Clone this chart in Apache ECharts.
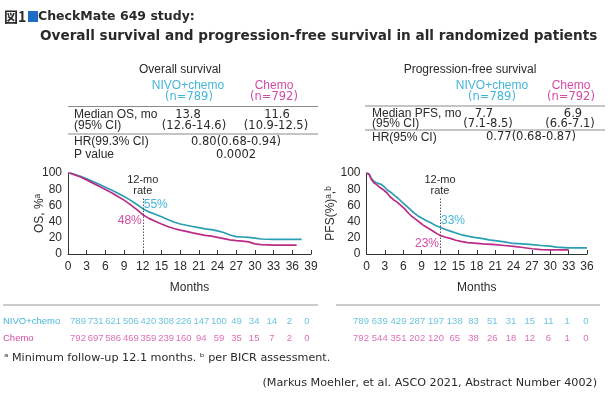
<!DOCTYPE html>
<html><head><meta charset="utf-8">
<script src="https://cdn.jsdelivr.net/npm/echarts/dist/echarts.min.js"></script>
<style>html,body{margin:0;padding:0;background:#fff}#c{width:608px;height:399px}</style>
</head><body><div id="c"></div>
<script>
// ---------- data ----------
const osNivo = [[0,100],[0.5,99.5],[1,98.5],[2,96],[3,93],[4,89.5],[5,86],[6,82.5],[7,79],[8,75],[9,71],[10,66.5],[11,61.5],[12,56],[13,52],[14,49],[15,46],[16,42.5],[17,39.5],[18,37],[19,35.5],[20,34],[21,32.5],[22,31],[23,30],[24,28.5],[25,26.5],[26,23.5],[27,21.5],[28,21],[29,20.5],[30,19.5],[31,18.5],[33,18],[35,18],[37.5,18]];
const osChemo = [[0,100],[0.5,99.5],[1,98],[2,95],[3,91.5],[4,87.5],[5,83.5],[6,79.5],[7,75.5],[8,71],[9,66.5],[10,61],[11,55],[12,48.5],[13,44],[14,40.5],[15,37],[16,34],[17,31.5],[18,29.5],[19,28],[20,26],[21,24.5],[22,23],[23,22],[24,20.5],[25,19],[26,17.5],[27,16.5],[28,16],[29,15],[30,12.5],[31,11.5],[33,11],[35,11],[36.7,11]];
const pfsNivo = [[0,100],[0.4,99],[0.8,93],[1.2,90],[1.6,88],[2.4,86],[2.9,83],[3.4,79],[4,76],[4.6,72],[5.2,68.5],[5.8,64],[6.4,60],[7,56],[7.7,51],[8.4,47],[9,44.5],[9.8,41],[10.5,38.5],[11.2,35.5],[12,33],[12.8,30.5],[13.8,28],[14.6,26],[15.4,24],[16.5,22],[17.6,20.5],[19,19],[20,17.5],[21,16.5],[22.5,15],[24,13],[25.5,12.5],[27,11.5],[28.5,10.5],[30,9.8],[31,8.5],[33,7.5],[36,7.5]];
const pfsChemo = [[0,100],[0.4,98.5],[0.8,92],[1.2,88],[1.6,86],[2.2,82],[2.8,79],[3.4,75],[3.8,71],[4.4,67],[5,64],[5.6,60],[6.2,56],[6.9,50],[7.4,46.5],[8,43],[8.6,39.5],[9.2,36],[9.8,33],[10.5,30],[11.2,26.5],[12,23],[12.8,21],[13.8,19],[14.6,17],[15.4,15.5],[16.5,14],[17.6,13.5],[19,12.5],[21,11.5],[22.5,10.5],[24,9.5],[25.5,8],[27,6.5],[28.5,5.5],[30,5],[33,5]];

const osRate12 = {nivo: 55, chemo: 48};
const pfsRate12 = {nivo: 33, chemo: 23};

const osRiskMonths = [0,3,6,9,12,15,18,21,24,27,30,33,36,39];
const osRiskNivo = [789,731,621,506,420,308,226,147,100,49,34,14,2,0];
const osRiskChemo = [792,697,586,469,359,239,160,94,59,35,15,7,2,0];
const pfsRiskMonths = [0,3,6,9,12,15,18,21,24,27,30,33,36];
const pfsRiskNivo = [789,639,429,287,197,138,83,51,31,15,11,1,0];
const pfsRiskChemo = [792,544,351,202,120,65,38,26,18,12,6,1,0];

// ---------- style ----------
const FONT = '"Liberation Sans", Arial, sans-serif';
const WIDE = '"DejaVu Sans", sans-serif';
const CY_LINE = '#2a9fb3', MG_LINE = '#bb2c86';
const CY_TXT = '#45b6d8', MG_TXT = '#d24ba6';
const TXT = '#2a2a2a';

const chart = echarts.init(document.getElementById('c'));

function xAx(grid, max) {
  return {type:'value', gridIndex:grid, min:0, max:max, interval:3,
    name:'Months', nameLocation:'middle', nameGap:28, nameMoveOverlap:false,
    nameTextStyle:{color:TXT, fontSize:12, fontFamily:FONT},
    axisLine:{lineStyle:{color:'#333', width:1}},
    axisTick:{show:true, inside:true, length:4, lineStyle:{color:'#333'}},
    axisLabel:{color:TXT, fontSize:12, fontFamily:FONT, margin:7},
    splitLine:{show:false}};
}
function yAx(grid, name, gap) {
  return {type:'value', gridIndex:grid, min:0, max:100, interval:20,
    name:name, nameLocation:'middle', nameGap:gap, nameRotate:90, nameMoveOverlap:false,
    nameTextStyle:{color:TXT, fontSize:12, fontFamily:FONT},
    axisLine:{show:true, lineStyle:{color:'#333', width:1}},
    axisTick:{show:false},
    axisLabel:{color:TXT, fontSize:12, fontFamily:FONT, margin:6},
    splitLine:{show:false}};
}
function hidX(grid, max) { return {type:'value', gridIndex:grid, min:0, max:max, show:false}; }
function hidY(grid) { return {type:'value', gridIndex:grid, min:0, max:1, show:false}; }
function curve(name, data, xi, color, extra) {
  return Object.assign({type:'line', name:name, xAxisIndex:xi, yAxisIndex:xi, data:data,
    showSymbol:false, smooth:false, lineStyle:{color:color, width:1.7}, itemStyle:{color:color},
    silent:true, z:3}, extra || {});
}
function rateMark(pct, color, pos, off) {
  return {symbol:'circle', symbolSize:0, coord:[12, pct], value:pct,
    label:{show:true, position:pos, distance:1, offset:off, formatter:pct+'%',
      color:color, fontSize:12, fontFamily:FONT}};
}
function vline() {
  return {silent:true, symbol:['none','none'],
    lineStyle:{color:'#555', type:[1.5,1.5], width:1},
    label:{show:true, position:'end', formatter:'12-mo\nrate', color:TXT, fontSize:11,
      lineHeight:11, fontFamily:FONT, distance:1},
    data:[[{coord:[12,0]},{coord:[12,70]}]]};
}
function riskSeries(xi, months, vals, yv, color) {
  return {type:'scatter', xAxisIndex:xi, yAxisIndex:xi, symbolSize:0, silent:true,
    data: months.map((m,i)=>[m, yv, vals[i]]),
    label:{show:true, position:'inside', formatter:p=>String(p.value[2]),
      color:color, fontSize:9.5, fontFamily:FONT}};
}

function txt(x, y, s, opt) {
  opt = opt || {};
  return {type:'text', x:x, y:y, silent:true,
    style:{text:s, fill:opt.color||TXT, font:(opt.weight||'normal')+' '+(opt.size||12)+'px '+(opt.family||FONT),
      textAlign:opt.align||'left', textVerticalAlign:'middle'}};
}
function num(x, y, s, opt) {
  opt = Object.assign({align:'center', size:11.5, family:WIDE}, opt || {});
  return txt(x, y, s, opt);
}
function hline(x1, x2, y, color) {
  return {type:'line', silent:true, shape:{x1:x1, y1:y, x2:x2, y2:y},
    style:{stroke:color||'#8a8a8a', lineWidth:1}};
}

const L = {med:115, ci:126, line:134, hr:142, p:155};
const R = {med:114, ci:124, line:130, hr:137.5};
const graphic = [
  // title
  txt(4, 17, '図1', {weight:'bold', size:14, family:'"Noto Sans CJK JP", sans-serif'}),
  {type:'rect', silent:true, shape:{x:28, y:11, width:10, height:11}, style:{fill:'#1f6cc4'}},
  txt(38, 17, 'CheckMate 649 study:', {weight:'bold', size:12.5, family:WIDE}),
  txt(40, 36, 'Overall survival and progression-free survival in all randomized patients', {weight:'bold', size:13.6, family:WIDE}),
  // left table
  txt(180, 70, 'Overall survival', {align:'center'}),
  txt(188, 86, 'NIVO+chemo', {align:'center', color:CY_TXT}),
  num(189, 97.5, '(n=789)', {color:CY_TXT}),
  txt(274, 86, 'Chemo', {align:'center', color:MG_TXT}),
  num(274, 97.5, '(n=792)', {color:MG_TXT}),
  hline(68, 318, 106.5),
  txt(74, L.med, 'Median OS, mo'),
  num(188, L.med, '13.8'),
  num(277, L.med, '11.6'),
  txt(74, L.ci, '(95% CI)'),
  num(194, L.ci, '(12.6-14.6)'),
  num(276, L.ci, '(10.9-12.5)'),
  hline(68, 318, L.line),
  txt(74, L.hr, 'HR(99.3% CI)'),
  num(236, L.hr, '0.80(0.68-0.94)'),
  txt(74, L.p, 'P value'),
  num(236, L.p, '0.0002'),
  // right table
  txt(470, 70, 'Progression-free survival', {align:'center'}),
  txt(492, 86, 'NIVO+chemo', {align:'center', color:CY_TXT}),
  num(492, 97.5, '(n=789)', {color:CY_TXT}),
  txt(571, 86, 'Chemo', {align:'center', color:MG_TXT}),
  num(571, 97.5, '(n=792)', {color:MG_TXT}),
  hline(365, 605, 106),
  txt(372, R.med, 'Median PFS, mo'),
  num(484, R.med, '7.7'),
  num(573, R.med, '6.9'),
  txt(372, R.ci, '(95% CI)'),
  num(488, R.ci, '(7.1-8.5)'),
  num(570, R.ci, '(6.6-7.1)'),
  hline(365, 605, R.line),
  txt(372, R.hr, 'HR(95% CI)'),
  num(531, R.hr, '0.77(0.68-0.87)'),
  // at-risk
  hline(3, 318, 305, '#999'),
  hline(336, 600, 305, '#999'),
  txt(3, 321, 'NIVO+chemo', {size:9.5, color:CY_TXT}),
  txt(3, 338, 'Chemo', {size:9.5, color:MG_TXT}),
  // footnotes
  txt(4, 358, 'ᵃ Minimum follow-up 12.1 months. ᵇ per BICR assessment.', {size:11.2, family:WIDE}),
  txt(597, 383, '(Markus Moehler, et al. ASCO 2021, Abstract Number 4002)', {size:11.2, family:WIDE, align:'right'})
];

const option = {
  animation:false,
  backgroundColor:'#fff',
  textStyle:{fontFamily:FONT},
  grid:[
    {left:68, top:173, width:243, height:81},
    {left:366.5, top:173, width:220.5, height:81},
    {left:78, top:321, width:229, height:17},
    {left:361, top:321, width:225, height:17}
  ],
  xAxis:[xAx(0,39), xAx(1,36), hidX(2,39), hidX(3,36)],
  yAxis:[yAx(0,'OS, %ᵃ',22), yAx(1,'PFS(%)ᵃ,ᵇ',30), hidY(2), hidY(3)],
  series:[
    curve('NIVO+chemo OS', osNivo, 0, CY_LINE, {
      markLine: vline(),
      markPoint:{data:[rateMark(osRate12.nivo, CY_TXT, 'right', [0,-5])]}}),
    curve('Chemo OS', osChemo, 0, MG_LINE, {
      markPoint:{data:[rateMark(osRate12.chemo, MG_TXT, 'left', [0,6])]}}),
    curve('NIVO+chemo PFS', pfsNivo, 1, CY_LINE, {
      markLine: vline(),
      markPoint:{data:[rateMark(pfsRate12.nivo, CY_TXT, 'right', [0,-7])]}}),
    curve('Chemo PFS', pfsChemo, 1, MG_LINE, {
      markPoint:{data:[rateMark(pfsRate12.chemo, MG_TXT, 'left', [0,8])]}}),
    riskSeries(2, osRiskMonths, osRiskNivo, 1, CY_TXT),
    riskSeries(2, osRiskMonths, osRiskChemo, 0, MG_TXT),
    riskSeries(3, pfsRiskMonths, pfsRiskNivo, 1, CY_TXT),
    riskSeries(3, pfsRiskMonths, pfsRiskChemo, 0, MG_TXT)
  ],
  graphic: graphic
};
chart.setOption(option);
</script>
</body></html>
